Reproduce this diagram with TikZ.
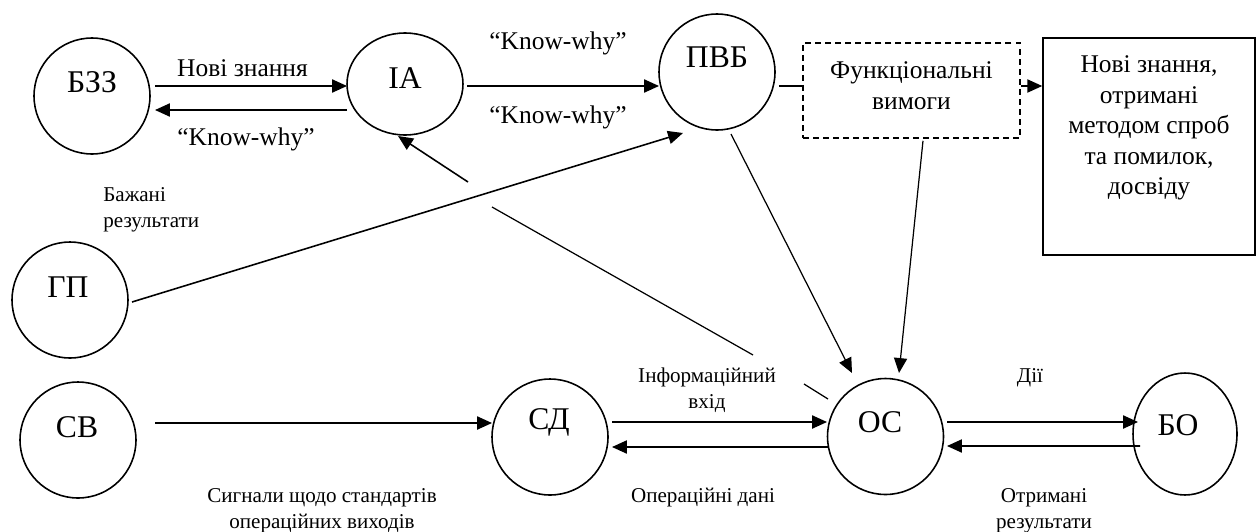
\documentclass[tikz,border=0pt]{standalone}
\usepackage{fontspec}
\setmainfont{Liberation Serif}
\usetikzlibrary{arrows.meta,calc,shapes.geometric}
\begin{document}
\begin{tikzpicture}[x=0.02cm,y=-0.02cm,
  ln/.style={line width=0.9pt},
  thin line/.style={line width=0.7pt},
  tip/.style={-{Triangle[length=8.5pt,width=7.5pt]}},
  arr/.style={ln,tip},
  circ/.style={draw,circle,line width=0.9pt,minimum size=2.32cm,inner sep=0pt},
  ell/.style={draw,ellipse,line width=0.9pt,inner sep=0pt},
  big/.style={font=\fontsize{18}{21}\selectfont,inner sep=0pt},
  mid/.style={font=\fontsize{14.5}{17.3}\selectfont,align=center,inner sep=0pt},
  sm/.style={font=\fontsize{12}{14.7}\selectfont,align=center,inner sep=0pt},
  dbox/.style={draw,rectangle,dashed,dash pattern=on 3.4pt off 2.3pt,line width=0.9pt,inner sep=0pt},
  sbox/.style={draw,rectangle,line width=0.9pt,inner sep=0pt},
]
\useasboundingbox (0,0) rectangle (1257,531);

% nodes
\node[circ,label={[big,yshift=0.27cm]center:БЗЗ}] (BZZ) at (92,96) {};
\node[ell,minimum width=2.32cm,minimum height=2.04cm,label={[big,yshift=0.11cm]center:ІА}] (IA) at (405,84) {};
\node[circ,label={[big,yshift=0.30cm]center:ПВБ}] (PVB) at (717,72) {};
\node[circ,label={[big,yshift=0.25cm,xshift=-0.04cm]center:ГП}] (GP) at (70,300) {};
\node[circ,label={[big,yshift=0.26cm,xshift=-0.02cm]center:СВ}] (SV) at (78,440) {};
\node[circ,label={[big,yshift=0.29cm,xshift=-0.02cm]center:СД}] (SD) at (550,437) {};
\node[circ,label={[big,yshift=0.28cm,xshift=-0.11cm]center:ОС}] (OS) at (885.5,436.5) {};
\node[ell,minimum width=2.08cm,minimum height=2.44cm,label={[big,yshift=0.18cm,xshift=-0.14cm]center:БО}] (BO) at (1185,434) {};
\node[dbox,minimum width=4.34cm,minimum height=1.9cm,
  label={[mid,yshift=0.1cm]center:Функціональні\\вимоги}] (FV) at (911.5,90.5) {};
\node[sbox,minimum width=4.24cm,minimum height=4.34cm,
  label={[mid,yshift=0.37cm,align=center]center:Нові знання,\\отримані\\методом спроб\\та помилок,\\досвіду}] (NZ) at (1149,146.5) {};

% labels
\node[mid] (l1) at (242.5,68.5) {Нові знання};
\node[mid] (l2) at (246,139) {“Know-why”};
\node[mid] (l3) at (558,43) {“Know-why”};
\node[mid] (l4) at (558,117) {“Know-why”};
\node[sm,anchor=west,align=left] (l5) at (103,209.5) {Бажані\\результати};
\node[sm] (l6) at (707,390) {Інформаційний\\вхід};
\node[sm] (l7) at (703,497.5) {Операційні дані};
\node[sm] (l8) at (1030,377.5) {Дії};
\node[sm] (l9) at (1044,510.5) {Отримані\\результати};
\node[sm] (l10) at (322,510.5) {Сигнали щодо стандартів\\операційних виходів};

% connectors
\draw[arr] ($(BZZ)+(63,-10)$) -- ($(IA)+(-58,2)$);
\draw[arr] ($(IA)+(-58,26)$) -- ($(BZZ)+(63,14)$);
\draw[arr] ($(IA)+(62,2)$) -- ($(PVB)+(-58,14)$);
\draw[ln] ($(PVB)+(62,14)$) -- ($(FV.west)+(0,-4.5)$);
\draw[arr] ($(FV.east)+(0,-4.5)$) -- ($(NZ.west)+(0,-60.5)$);
\draw[arr] ($(GP)+(62,2)$) -- ($(PVB)+(-34,61)$);
\draw[thin line,tip] ($(PVB)+(14,62)$) -- ($(OS)+(-33.5,-63.5)$);
\draw[thin line,tip] ($(FV.south)+(11.5,2)$) -- ($(OS)+(13.5,-63.5)$);
\draw[arr] ($(SV)+(77,-17)$) -- ($(SD)+(-58,-14)$);
\draw[arr] ($(SD)+(62,-15)$) -- ($(OS)+(-58.5,-14.5)$);
\draw[arr] ($(OS)+(-57.5,10.5)$) -- ($(SD)+(62,10)$);
\draw[arr] ($(OS)+(61.5,-14.5)$) -- ($(BO)+(-47,-12)$);
\draw[arr] ($(BO)+(-45,12)$) -- ($(OS)+(61.5,9.5)$);
% broken connector OS -> IA
\coordinate (g1) at ($(OS)+(-81.5,-52.5)$);
\coordinate (g2) at ($(OS)+(-132.5,-81.5)$);
\coordinate (g3) at ($(OS)+(-393.5,-229.5)$);
\coordinate (g4) at ($(IA)+(63,98)$);
\draw[thin line] ($(OS)+(-57.5,-37.5)$) -- (g1);
\draw[thin line] (g2) -- (g3);
\draw[ln,tip] (g4) -- ($(IA)+(-7,52)$);
\end{tikzpicture}
\end{document}
